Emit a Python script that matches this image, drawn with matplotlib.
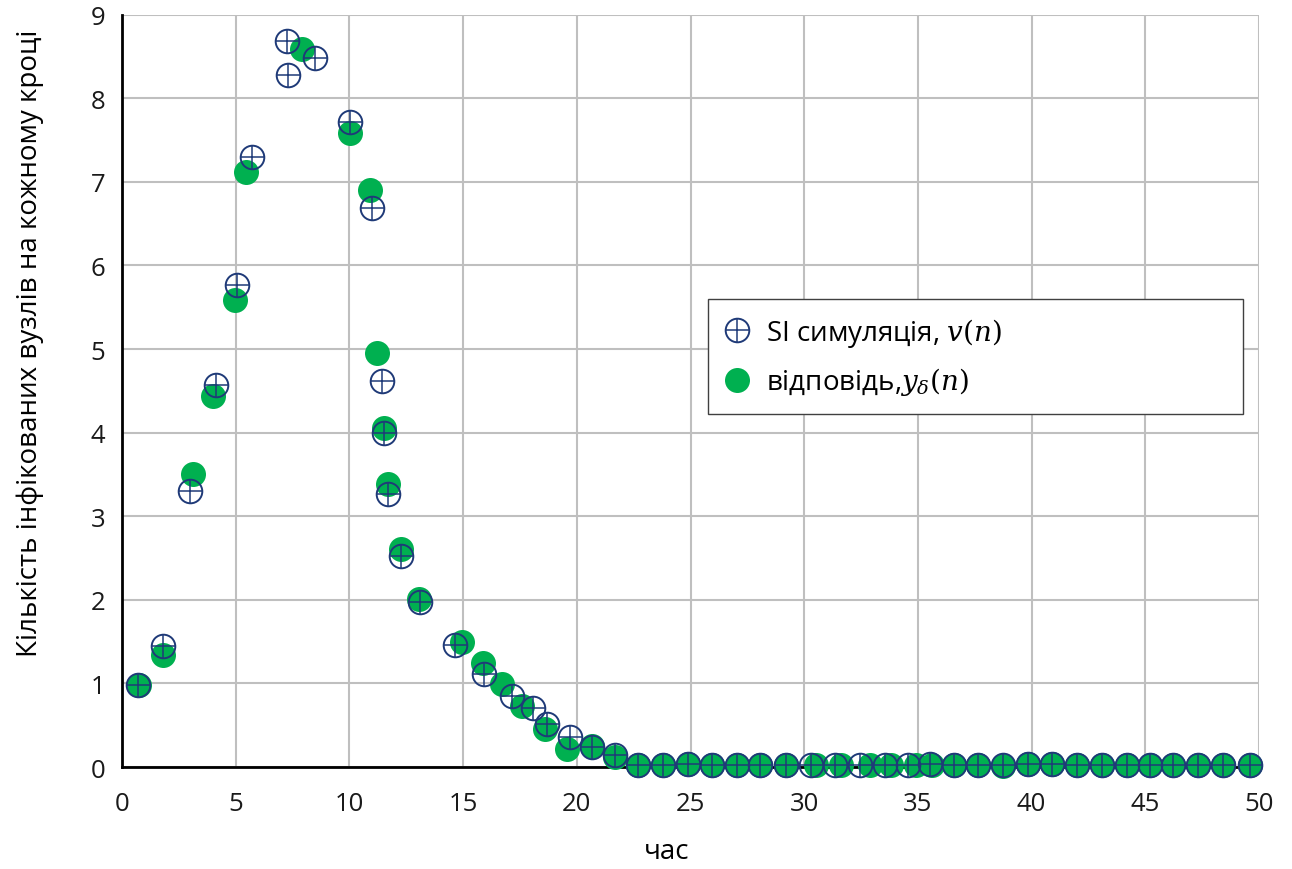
import matplotlib
matplotlib.use("Agg")
import matplotlib.pyplot as plt
from matplotlib.legend_handler import HandlerTuple

plt.rcParams['font.family'] = ['Open Sans', 'DejaVu Sans']
plt.rcParams['mathtext.fontset'] = 'custom'
plt.rcParams['mathtext.rm'] = 'DejaVu Serif'
plt.rcParams['mathtext.it'] = 'DejaVu Serif:italic'

# SI simulation, v(n)
sim_t = [0.72, 1.8, 3.0, 4.12, 5.04, 5.7, 7.27, 7.31, 8.49, 10.03, 10.98, 11.42,
         11.54, 11.71, 12.25, 13.1, 14.64, 15.92, 17.13, 18.09, 18.68, 19.7, 20.68,
         21.68, 22.7, 23.79, 24.89, 25.95, 27.04, 28.06, 29.2, 30.3, 31.35, 32.45,
         33.55, 34.56, 35.53, 36.59, 37.64, 38.74, 39.84, 40.9, 42.0, 43.1, 44.2,
         45.2, 46.2, 47.3, 48.4, 49.6]
sim_v = [0.98, 1.45, 3.30, 4.57, 5.77, 7.30, 8.68, 8.28, 8.48, 7.72, 6.69, 4.62,
         3.99, 3.27, 2.53, 1.97, 1.46, 1.11, 0.85, 0.71, 0.51, 0.36, 0.24,
         0.14, 0.03, 0.03, 0.04, 0.03, 0.03, 0.03, 0.03, 0.03, 0.03, 0.03,
         0.03, 0.03, 0.04, 0.03, 0.03, 0.02, 0.04, 0.04, 0.03, 0.03, 0.03,
         0.03, 0.03, 0.03, 0.03, 0.03]

# response, y_delta(n)
resp_t = [0.75, 1.8, 3.14, 4.0, 4.97, 5.44, 7.93, 10.03, 10.9, 11.23, 11.54,
          11.71, 12.25, 13.07, 14.94, 15.89, 16.7, 17.58, 18.6, 19.56, 20.65,
          21.68, 22.7, 23.79, 24.89, 25.95, 27.04, 28.06, 29.2, 30.5, 31.6, 32.9,
          33.8, 34.9, 35.6, 36.59, 37.64, 38.74, 39.84, 40.9, 42.0, 43.1, 44.2,
          45.2, 46.2, 47.3, 48.4, 49.6]
resp_y = [0.98, 1.34, 3.50, 4.44, 5.59, 7.12, 8.59, 7.58, 6.90, 4.95, 4.06,
          3.38, 2.61, 2.01, 1.49, 1.25, 0.99, 0.73, 0.45, 0.22, 0.25,
          0.12, 0.02, 0.03, 0.04, 0.03, 0.03, 0.03, 0.03, 0.03, 0.03, 0.03,
          0.03, 0.03, 0.03, 0.03, 0.03, 0.01, 0.04, 0.04, 0.03, 0.03, 0.03,
          0.02, 0.03, 0.03, 0.03, 0.03]

navy = '#1f3a78'
green = '#00b050'

fig = plt.figure(figsize=(12.92, 8.70), dpi=100)
ax = fig.add_axes([0.0944, 0.1172, 0.8801, 0.8648])

g, = ax.plot(resp_t, resp_y, 'o', ms=18, mfc=green, mec=green, mew=0,
             clip_on=False, zorder=3)
c, = ax.plot(sim_t, sim_v, 'o', ms=17, mfc='none', mec=navy, mew=1.4,
             clip_on=False, zorder=4)
p, = ax.plot(sim_t, sim_v, '+', ms=17, mec=navy, mew=1.1,
             clip_on=False, zorder=4)

ax.set_xlim(0, 50)
ax.set_ylim(0, 9)
ax.set_xticks(range(0, 51, 5))
ax.set_yticks(range(0, 10))
ax.grid(True, color='#bfbfbf', lw=1.5)
ax.set_axisbelow(True)
for s in ['top', 'right']:
    ax.spines[s].set_visible(False)
for s in ['left', 'bottom']:
    ax.spines[s].set_linewidth(2)
    ax.spines[s].set_color('black')
ax.tick_params(length=0, labelsize=18.5, colors='#1a1a1a')
ax.tick_params(axis='x', pad=17)
ax.tick_params(axis='y', pad=12)

ax.set_xlabel('час', fontsize=20, va='center')
ax.xaxis.set_label_coords(0.479, -0.112)
ax.set_ylabel('Кількість інфікованих вузлів на кожному кроці', fontsize=20,
              va='center')
ax.yaxis.set_label_coords(-0.081, 0.565)

leg = ax.legend([(c, p), g],
                ['SI симуляція, $v(n)$', 'відповідь,$y_{\\delta}(n)$'],
                handler_map={tuple: HandlerTuple(ndivide=1, pad=0)},
                loc='upper left', bbox_to_anchor=(0.515, 0.476, 0.4705, 0.146),
                mode='expand', fontsize=20, frameon=True, fancybox=False,
                edgecolor='#404040', framealpha=1, borderpad=0.6,
                labelspacing=0.6, handlelength=0.9, handletextpad=0.6,
                borderaxespad=0)
leg.get_frame().set_linewidth(1.0)

fig.savefig('out.png', dpi=100)
